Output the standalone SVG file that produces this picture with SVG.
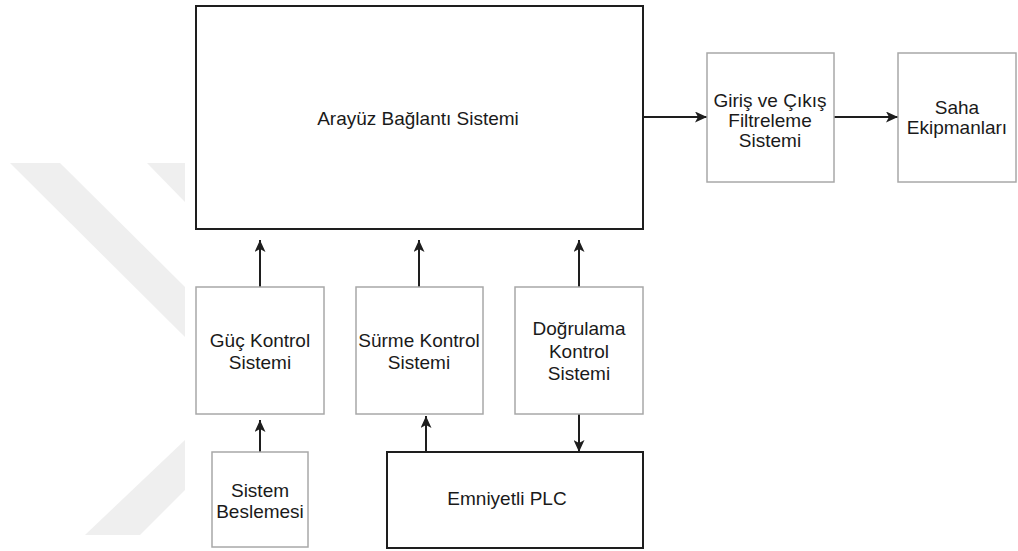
<svg xmlns="http://www.w3.org/2000/svg" width="1018" height="551" viewBox="0 0 1018 551">
<style>
.bg{fill:#ffffff}
.wm{fill:#efefef}
.dark{fill:#ffffff;stroke:#1e1e1e;stroke-width:2}
.light{fill:#ffffff;stroke:#a8a8a8;stroke-width:1.5}
.lbl{font-family:"Liberation Sans",Arial,sans-serif;font-size:19px;fill:#1a1a1a;text-anchor:middle}
.edge{fill:none;stroke:#1e1e1e;stroke-width:2;marker-end:url(#arr)}
</style>
<defs>
<marker id="arr" markerUnits="userSpaceOnUse" viewBox="0 0 12 11" refX="12" refY="5.5" markerWidth="12" markerHeight="11" orient="auto">
<path d="M0,0 L12,5.5 L0,11 L3,5.5 Z" fill="#1e1e1e"/>
</marker>
</defs>
<rect class="bg" x="0" y="0" width="1018" height="551"/>
<g id="watermark">
<polygon class="wm" points="10,163 60,163 185,287 185,337"/>
<polygon class="wm" points="147,163 185,163 185,202"/>
<polygon class="wm" points="185,440 185,490 140,535 85,535"/>
</g>
<g id="connectors">
<line class="edge" x1="643" y1="117" x2="707" y2="117"/>
<line class="edge" x1="834" y1="117" x2="898" y2="117"/>
<line class="edge" x1="260" y1="287" x2="260" y2="240"/>
<line class="edge" x1="419" y1="287" x2="419" y2="240"/>
<line class="edge" x1="579" y1="287" x2="579" y2="240"/>
<line class="edge" x1="260" y1="452" x2="260" y2="420"/>
<line class="edge" x1="426" y1="452" x2="426" y2="416"/>
<line class="edge" x1="579" y1="414" x2="579" y2="452"/>
</g>
<g id="arayuz">
<rect class="dark" x="196" y="6" width="447" height="223"/>
<text class="lbl" x="418" y="125">Arayüz Bağlantı Sistemi</text>
</g>
<g id="giris">
<rect class="light" x="707" y="53" width="127" height="129"/>
<text class="lbl" x="770" y="107">Giriş ve Çıkış</text>
<text class="lbl" x="770" y="127">Filtreleme</text>
<text class="lbl" x="770" y="147">Sistemi</text>
</g>
<g id="saha">
<rect class="light" x="898" y="53" width="118" height="129"/>
<text class="lbl" x="957" y="114">Saha</text>
<text class="lbl" x="957" y="134">Ekipmanları</text>
</g>
<g id="guc">
<rect class="light" x="196" y="287" width="128" height="127"/>
<text class="lbl" x="260" y="347">Güç Kontrol</text>
<text class="lbl" x="260" y="369">Sistemi</text>
</g>
<g id="surme">
<rect class="light" x="356" y="287" width="127" height="127"/>
<text class="lbl" x="419" y="347">Sürme Kontrol</text>
<text class="lbl" x="419" y="369">Sistemi</text>
</g>
<g id="dogrulama">
<rect class="light" x="515" y="287" width="128" height="127"/>
<text class="lbl" x="579" y="335">Doğrulama</text>
<text class="lbl" x="579" y="358">Kontrol</text>
<text class="lbl" x="579" y="380">Sistemi</text>
</g>
<g id="besleme">
<rect class="light" x="212" y="452" width="96" height="95"/>
<text class="lbl" x="260" y="497">Sistem</text>
<text class="lbl" x="260" y="518">Beslemesi</text>
</g>
<g id="plc">
<rect class="dark" x="387" y="452" width="256" height="96"/>
<text class="lbl" x="507" y="505">Emniyetli PLC</text>
</g>
</svg>
